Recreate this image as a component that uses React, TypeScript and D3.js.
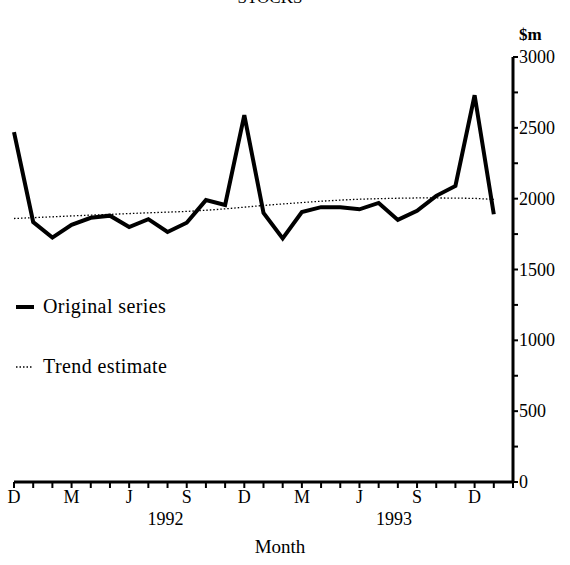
import * as d3 from "d3";

// Dec 1991 .. Jan 1994, $m
const monthNames = ["D", "J", "F", "M", "A", "M", "J", "J", "A", "S", "O", "N", "D", "J", "F", "M", "A", "M", "J", "J", "A", "S", "O", "N", "D", "J"];
const original = [2470, 1835, 1725, 1815, 1865, 1880, 1800, 1855, 1765, 1830, 1990, 1955, 2590, 1900, 1720, 1905, 1940, 1940, 1925, 1970, 1850, 1915, 2020, 2090, 2730, 1890];
const trend = [1860, 1866, 1872, 1878, 1884, 1889, 1895, 1900, 1905, 1910, 1918, 1928, 1940, 1952, 1963, 1972, 1982, 1990, 1996, 2000, 2003, 2005, 2005, 2004, 2002, 1995];

const labelMonths = [0, 3, 6, 9, 12, 15, 18, 21, 24];
const yearLabels = ["1992", "1993"];
const yearPos = [7.9, 19.8];
const yMajor = [0, 500, 1000, 1500, 2000, 2500, 3000];

const FONT = "'Liberation Serif', 'DejaVu Serif', serif";

export default function App() {
  const width = 570;
  const height = 565;
  const nTicks = monthNames.length + 1; // axis runs to Feb 1994

  const x = d3.scaleLinear().domain([0, nTicks - 1]).range([14, 513]);
  const y = d3.scaleLinear().domain([0, 3000]).range([482, 57]);

  const line = d3
    .line<number>()
    .x((_, i) => x(i))
    .y((d) => y(d));

  const minor = d3.range(0, 3001, 250);
  const monthTicks = d3.range(0, nTicks);

  return (
    <div style={{ position: "absolute", left: 0, top: 0 }}>
      <svg width={width} height={height} style={{ display: "block", background: "#fff" }} fontFamily={FONT}>
        {/* clipped title remnant */}
        <text x={270} y={3} textAnchor="middle" fontSize={17} fill="#000">
          STOCKS
        </text>

        {/* y axis */}
        <line x1={x(nTicks - 1)} x2={x(nTicks - 1)} y1={y(3000)} y2={y(0)} stroke="#000" strokeWidth={3} />
        {minor.map((v) => (
          <line key={v} x1={x(nTicks - 1)} x2={x(nTicks - 1) + 5} y1={y(v)} y2={y(v)} stroke="#000" strokeWidth={2} />
        ))}
        {yMajor.map((v) => (
          <text key={v} x={x(nTicks - 1) + 6} y={y(v) + 6} fontSize={18} fill="#000">
            {v}
          </text>
        ))}
        <text x={519} y={40} fontSize={17} fontWeight="bold" fill="#000">
          $m
        </text>

        {/* x axis */}
        <line x1={x(0)} x2={x(nTicks - 1)} y1={y(0)} y2={y(0)} stroke="#000" strokeWidth={3} />
        {monthTicks.map((i) => (
          <line key={i} x1={x(i)} x2={x(i)} y1={y(0)} y2={y(0) + 6} stroke="#000" strokeWidth={2} />
        ))}
        {labelMonths.map((i) => (
          <text key={i} x={x(i)} y={503} textAnchor="middle" fontSize={18} fill="#000">
            {monthNames[i]}
          </text>
        ))}
        {yearLabels.map((t, k) => (
          <text key={t} x={x(yearPos[k])} y={525} textAnchor="middle" fontSize={18} fill="#000">
            {t}
          </text>
        ))}
        <text x={280} y={553} textAnchor="middle" fontSize={19} fill="#000">
          Month
        </text>

        {/* series */}
        <path d={line(trend) ?? ""} fill="none" stroke="#000" strokeWidth={1.3} strokeDasharray="1.5,2" />
        <path d={line(original) ?? ""} fill="none" stroke="#000" strokeWidth={4} strokeLinejoin="miter" />

        {/* legend */}
        <line x1={16} x2={34} y1={307} y2={307} stroke="#000" strokeWidth={4} />
        <text x={43} y={313} fontSize={20} letterSpacing={0.4} fill="#000">
          Original series
        </text>
        <line x1={16} x2={32} y1={367} y2={367} stroke="#000" strokeWidth={1.3} strokeDasharray="1.5,2" />
        <text x={43} y={373} fontSize={20} letterSpacing={0.4} fill="#000">
          Trend estimate
        </text>
      </svg>
    </div>
  );
}
